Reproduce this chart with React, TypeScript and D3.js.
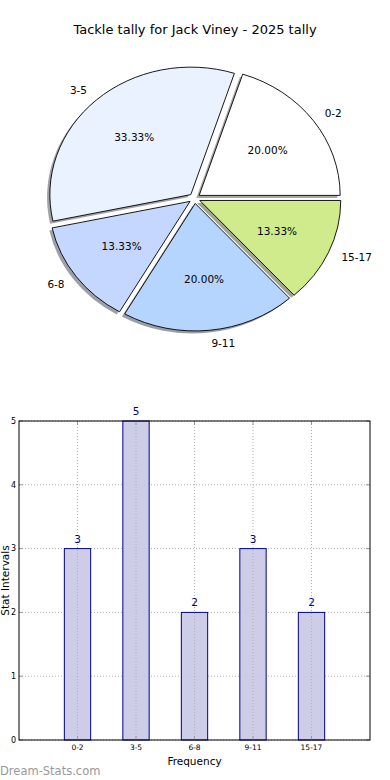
import React from 'react';
import * as d3 from 'd3';

const categories = ['0-2', '3-5', '6-8', '9-11', '15-17'];
const counts = [3, 5, 2, 3, 2];
const sliceColors = ['#ffffff', '#eaf1ff', '#c5d7ff', '#b5d5ff', '#d0eb8b'];
const yTicks = [0, 1, 2, 3, 4, 5];

const W = 390;
const H = 780;
const FONT = 'DejaVu Sans, sans-serif';

// pie geometry (matplotlib-like, non-equal aspect => ellipse)
const cx = 194.6;
const cy = 198.4;
const rx = 141;
const ry = 127.5;
const explode = 0.04;

// bar chart frame
const bar = { left: 19, right: 370, top: 421, bottom: 740 };

const shade = (c: string) => {
  const col = d3.rgb(c);
  return d3.rgb(col.r * 0.3, col.g * 0.3, col.b * 0.3).toString();
};

const App = () => {
  const total = d3.sum(counts);
  const pie = d3
    .pie<number>()
    .sort(null)
    .startAngle(Math.PI / 2)
    .endAngle(Math.PI / 2 - 2 * Math.PI);
  const arcs = pie(counts);
  const arc = d3.arc<d3.PieArcDatum<number>>().innerRadius(0).outerRadius(1);

  const slices = arcs.map((a, i) => {
    const mid = (a.startAngle + a.endAngle) / 2;
    const dx = Math.sin(mid);
    const dy = -Math.cos(mid);
    const ox = cx + explode * rx * dx;
    const oy = cy + explode * ry * dy;
    return { a, i, dx, dy, ox, oy };
  });

  const x = d3.scaleLinear().domain([-1, 5]).range([bar.left, bar.right]);
  const y = d3.scaleLinear().domain([0, 5]).range([bar.bottom, bar.top]);
  const barW = x(0.45) - x(0);

  return (
    <svg
      width={W}
      height={H}
      style={{ position: 'absolute', left: 0, top: 0, background: '#fff' }}
      fontFamily={FONT}
    >
      <rect width={W} height={H} fill="#fff" />
      <text x={195} y={34} textAnchor="middle" fontSize={13} fill="#000">
        Tackle tally for Jack Viney - 2025 tally
      </text>

      {/* shadows behind everything */}
      {slices.map((s) => (
        <g key={'sh' + s.i} transform={`translate(${s.ox - 2.8},${s.oy + 2.6}) scale(${rx},${ry})`}>
          <path d={arc(s.a) || ''} fill={shade(sliceColors[s.i])} fillOpacity={0.5} />
        </g>
      ))}
      {slices.map((s) => (
        <g key={'w' + s.i} transform={`translate(${s.ox},${s.oy}) scale(${rx},${ry})`}>
          <path
            d={arc(s.a) || ''}
            fill={sliceColors[s.i]}
            stroke="#000"
            strokeWidth={0.9}
            vectorEffect="non-scaling-stroke"
            strokeLinejoin="round"
          />
        </g>
      ))}
      {slices.map((s) => {
        const lx = s.ox + 1.1 * rx * s.dx;
        const ly = s.oy + 1.1 * ry * s.dy;
        const px = s.ox + 0.6 * rx * s.dx;
        const py = s.oy + 0.6 * ry * s.dy;
        return (
          <g key={'t' + s.i} fontSize={10.5} fill="#000">
            <text x={lx} y={ly} dy="0.35em" textAnchor={s.dx > 0 ? 'start' : 'end'}>
              {categories[s.i]}
            </text>
            <text x={px} y={py} dy="0.35em" textAnchor="middle">
              {d3.format('.2f')((counts[s.i] / total) * 100)}%
            </text>
          </g>
        );
      })}

      {/* bar chart */}
      <g>
        {yTicks.map((t) => (
          <line
            key={'gy' + t}
            x1={bar.left}
            x2={bar.right}
            y1={y(t)}
            y2={y(t)}
            stroke="#b0b0b0"
            strokeDasharray="1,2"
          />
        ))}
        {counts.map((v, i) => (
          <rect
            key={'b' + i}
            x={x(i) - barW / 2}
            y={y(v)}
            width={barW}
            height={y(0) - y(v)}
            fill="#c8c8e4"
            fillOpacity={0.9}
            stroke="#000088"
            strokeWidth={1}
          />
        ))}
        {categories.map((c, i) => (
          <line
            key={'gx' + c}
            x1={x(i)}
            x2={x(i)}
            y1={bar.top}
            y2={bar.bottom}
            stroke="#b0b0b0"
            strokeDasharray="1,2"
          />
        ))}
        {counts.map((v, i) => (
          <text
            key={'v' + i}
            x={x(i)}
            y={y(v) - 6}
            textAnchor="middle"
            fontSize={10.5}
            fill="#000080"
          >
            {v}
          </text>
        ))}
        {/* ticks inward on all sides */}
        {yTicks.map((t) => (
          <g key={'ty' + t} stroke="#999">
            <line x1={bar.left} x2={bar.left + 4} y1={y(t)} y2={y(t)} />
            <line x1={bar.right} x2={bar.right - 4} y1={y(t)} y2={y(t)} />
          </g>
        ))}
        {categories.map((c, i) => (
          <g key={'tx' + c} stroke="#999">
            <line x1={x(i)} x2={x(i)} y1={bar.bottom} y2={bar.bottom - 4} />
            <line x1={x(i)} x2={x(i)} y1={bar.top} y2={bar.top + 4} />
          </g>
        ))}
        <rect
          x={bar.left}
          y={bar.top}
          width={bar.right - bar.left}
          height={bar.bottom - bar.top}
          fill="none"
          stroke="#000"
          strokeWidth={1}
        />
        {yTicks.map((t) => (
          <text key={'ly' + t} x={bar.left - 3} y={y(t)} dy="0.35em" textAnchor="end" fontSize={8}>
            {t}
          </text>
        ))}
        {categories.map((c, i) => (
          <text key={'lx' + c} x={x(i)} y={bar.bottom + 10} textAnchor="middle" fontSize={7.5}>
            {c}
          </text>
        ))}
        <text x={(bar.left + bar.right) / 2} y={765} textAnchor="middle" fontSize={10.5}>
          Frequency
        </text>
        <text
          transform={`translate(9,${(bar.top + bar.bottom) / 2}) rotate(-90)`}
          textAnchor="middle"
          fontSize={10.5}
        >
          Stat Intervals
        </text>
      </g>
      <text x={0} y={775} fontSize={11.5} fill="#999">
        Dream-Stats.com
      </text>
    </svg>
  );
};

export default App;
